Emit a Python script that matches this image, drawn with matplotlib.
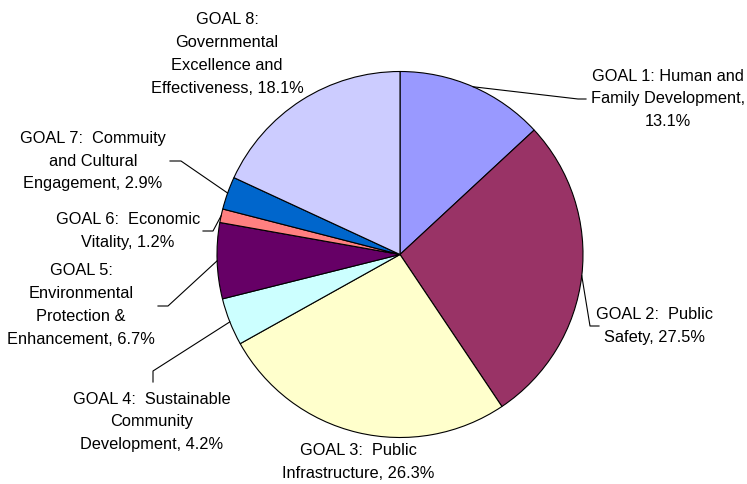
import matplotlib
matplotlib.use("Agg")
import matplotlib.pyplot as plt
import numpy as np

plt.rcParams["font.family"] = ["Liberation Sans", "DejaVu Sans"]

# Datos (porcentajes del gráfico)
goals = [
    "GOAL 1: Human and\nFamily Development,",
    "GOAL 2:  Public\nSafety,",
    "GOAL 3:  Public\nInfrastructure,",
    "GOAL 4:  Sustainable\nCommunity\nDevelopment,",
    "GOAL 5:\nEnvironmental\nProtection &\nEnhancement,",
    "GOAL 6:  Economic\nVitality,",
    "GOAL 7:  Commuity\nand Cultural\nEngagement,",
    "GOAL 8:\nGovernmental\nExcellence and\nEffectiveness,",
]
shares = [13.1, 27.5, 26.3, 4.2, 6.7, 1.2, 2.9, 18.1]
colors = ["#9999FF", "#993366", "#FFFFCC", "#CCFFFF",
          "#660066", "#FF8080", "#0066CC", "#CCCCFF"]

W, H = 747, 485

# posiciones de las etiquetas (pixeles de la imagen, centro del bloque)
label_pos = [(668, 99), (655, 326), (358, 462), (152, 422),
             (81, 305), (128, 231), (93, 161), (227, 54)]
# codos de las líneas guía (None = sin línea)
leaders = [
    [(578, 100), (586, 100)],
    [(590, 327), (599, 327)],
    None,
    [(153, 372), (153, 383)],
    [(168, 307), (158, 307)],
    [(213, 232), (203, 232)],
    [(181, 162), (170, 162)],
    None,
]

cx, cy, r = 400, 255.5, 183


def img(p):
    return p[0], H - p[1]


fig = plt.figure(figsize=(W / 100, H / 100), dpi=100)
ax = fig.add_axes([0, 0, 1, 1])
wedges, _ = ax.pie(shares, colors=colors, startangle=90, counterclock=False,
                   center=(cx, H - cy), radius=r,
                   wedgeprops=dict(edgecolor="black", linewidth=0.8))
ax.set_xlim(0, W)
ax.set_ylim(0, H)
ax.set_aspect("equal")
ax.axis("off")

for i, w in enumerate(wedges):
    # un salto de línea extra para el porcentaje de la meta 1
    if i == 0:
        txt = goals[i] + "\n%.1f%%" % shares[i]
    else:
        txt = goals[i] + " %.1f%%" % shares[i]
    x, y = img(label_pos[i])
    ax.text(x, y, txt, ha="center", va="center", multialignment="center",
            fontsize=11.8, linespacing=1.65, color="black")
    if leaders[i] is not None:
        ang = np.deg2rad((w.theta1 + w.theta2) / 2)
        px = cx + r * np.cos(ang)
        py = (H - cy) + r * np.sin(ang)
        pts = [(px, py)] + [img(p) for p in leaders[i]]
        ax.plot([p[0] for p in pts], [p[1] for p in pts], color="black", lw=0.8)

fig.savefig("out.png", dpi=100)
